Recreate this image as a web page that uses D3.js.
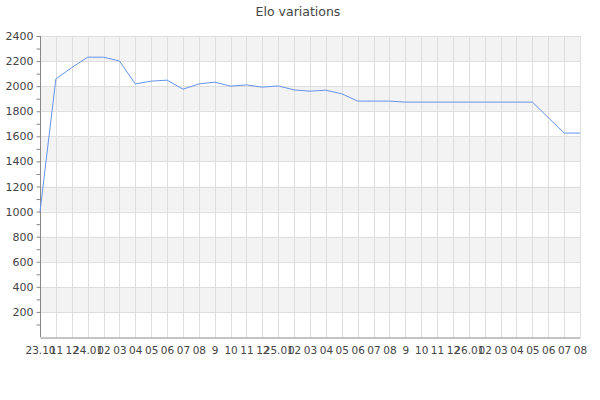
<!DOCTYPE html>
<html><head><meta charset="utf-8">
<script src="https://cdn.jsdelivr.net/npm/d3@7"></script>
<style>body{margin:0;background:#fff}svg{display:block}text{font-family:"DejaVu Sans",sans-serif}</style>
</head><body><svg id="c" width="600" height="400"></svg>
<script>
const title = "Elo variations";
const labels = ["23.10","11","12","24.01","02","03","04","05","06","07","08","9","10","11","12","25.01","02","03","04","05","06","07","08","9","10","11","12","26.01","02","03","04","05","06","07","08"];
const elo = [1000,2058,2148,2231,2231,2201,2018,2040,2048,1976,2018,2032,2000,2010,1992,2002,1970,1960,1968,1939,1881,1881,1881,1873,1873,1873,1873,1873,1873,1873,1873,1873,1750,1626,1626];
const yTicks = [200,400,600,800,1000,1200,1400,1600,1800,2000,2200,2400];
const yMinor = d3.range(100, 2401, 100);
const bandStarts = [200,600,1000,1400,1800,2200];

const svg = d3.select("#c");
const L = 40, R = 580, T = 36, B = 337;
const x = d3.scalePoint().domain(d3.range(labels.length)).range([L, R]);
const y = d3.scaleLinear().domain([0, 2400]).range([B, T]);

svg.append("text").attr("x", 298).attr("y", 16).attr("text-anchor", "middle")
  .attr("font-size", 12.5).attr("fill", "#444").text(title);

svg.append("g").selectAll("rect").data(bandStarts).join("rect")
  .attr("x", L).attr("width", R - L)
  .attr("y", d => y(d + 200)).attr("height", d => y(d) - y(d + 200))
  .attr("fill", "#f3f3f3");

svg.append("g").selectAll("line").data(yTicks).join("line")
  .attr("x1", L).attr("x2", R).attr("y1", d => Math.round(y(d)) + 0.5).attr("y2", d => Math.round(y(d)) + 0.5)
  .attr("stroke", "#dedede");
svg.append("g").selectAll("line").data(d3.range(labels.length)).join("line")
  .attr("x1", d => Math.round(x(d)) + 0.5).attr("x2", d => Math.round(x(d)) + 0.5).attr("y1", T).attr("y2", B)
  .attr("stroke", "#dedede");

const ya = svg.append("g").attr("transform", `translate(${L + 0.5},0)`)
  .call(d3.axisLeft(y).tickValues(yMinor).tickSize(4).tickPadding(3)
    .tickFormat(d => d % 200 === 0 ? d : ""));
ya.select(".domain").attr("stroke", "#888").attr("d", `M-0,${T}V${B}`);
ya.selectAll(".tick line").attr("stroke", "#888");
ya.selectAll(".tick text").attr("font-size", 11).attr("fill", "#444").attr("font-family", "DejaVu Sans");

const xa = svg.append("g").attr("transform", `translate(0,${B + 0.5})`)
  .call(d3.axisBottom(x).tickSize(0).tickPadding(9).tickFormat(i => labels[i]));
xa.select(".domain").attr("stroke", "#888");
xa.selectAll(".tick text").attr("font-size", 10.5).attr("fill", "#444").attr("font-family", "DejaVu Sans");

svg.append("path").datum(elo)
  .attr("d", d3.line().x((d, i) => x(i)).y(d => y(d)))
  .attr("fill", "none").attr("stroke", "#6494ed").attr("stroke-width", 1);
</script></body></html>
